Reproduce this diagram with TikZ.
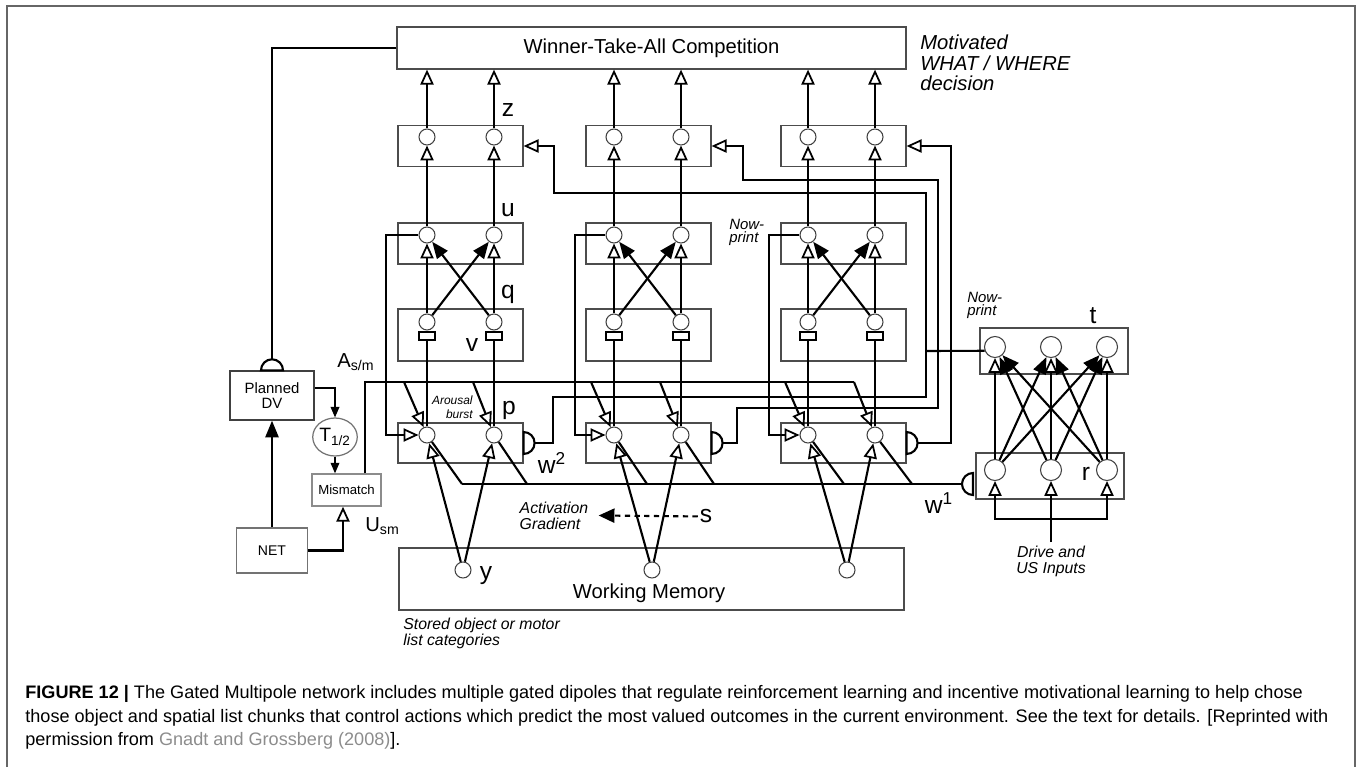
\documentclass[tikz,border=0pt]{standalone}
\usepackage{fontspec}
\setmainfont{Liberation Sans}
\usetikzlibrary{arrows.meta,shapes,positioning,calc}
\definecolor{linkgray}{HTML}{8C8C8C}

\tikzset{
  layer/.style={rectangle,draw=black!70,line width=0.7pt,minimum width=2.5cm,inner sep=0pt},
  unit/.style={rectangle,draw=black!75,line width=0.8pt,inner sep=0pt,align=center},
  cell/.style={circle,draw=black!75,line width=0.6pt,fill=white,minimum size=0.32cm,inner sep=0pt},
  bigcell/.style={cell,minimum size=0.42cm},
  habit/.style={rectangle,draw,line width=0.8pt,fill=white,minimum width=0.32cm,minimum height=0.16cm,inner sep=0pt},
  wire/.style={line width=1.2pt},
  oarrow/.style={wire,-{Triangle[open,length=8.5pt,width=7.5pt,line width=1pt]}},
  farrow/.style={wire,-{Triangle[length=9.5pt,width=7.5pt]}},
  sarrow/.style={line width=0.7pt,-{Triangle[length=6pt,width=5pt]}},
  letter/.style={font=\fontsize{14}{14}\selectfont,inner sep=0pt},
  note/.style={font=\fontsize{9}{9}\selectfont\itshape,align=left,inner sep=0pt},
}

\begin{document}
\begin{tikzpicture}[x=0.02cm,y=-0.02cm]
\useasboundingbox (0,0) rectangle (1358,767);
\draw[black!60,line width=0.6pt] (7,767) -- (7,6) -- (1355,6) -- (1355,767);

% Winner-take-all decision
\node[layer,minimum width=10.18cm,minimum height=0.84cm,font=\fontsize{11.5}{12}\selectfont] (wta) at (651.5,48) {Winner-Take-All Competition};
\node[note,font=\fontsize{11.5}{11.6}\selectfont\itshape,anchor=west] (motiv) at (920,63) {Motivated\\WHAT / WHERE\\decision};

% Planned DV, NET and mismatch
\node[unit,minimum width=1.68cm,minimum height=0.98cm,font=\fontsize{8.5}{8.5}\selectfont] (dv) at (272,395.5) {Planned\\DV};
\node[unit,draw=black!55,minimum width=1.42cm,minimum height=0.9cm,font=\fontsize{8}{8}\selectfont] (net) at (272,550.5) {NET};
\node[ellipse,draw=black!55,line width=0.7pt,minimum width=0.84cm,minimum height=0.76cm,inner sep=0pt,font=\fontsize{11}{11}\selectfont] (thalf) at (335,437) {T\textsubscript{1/2}};
\node[unit,draw=black!45,minimum width=1.38cm,minimum height=0.64cm,font=\fontsize{7.5}{7.5}\selectfont] (mis) at (346.5,490) {Mismatch};
\node[font=\fontsize{11.5}{12}\selectfont,inner sep=0pt] (asm) at (356,362) {A\textsubscript{s/m}};
\node[font=\fontsize{11.5}{12}\selectfont,inner sep=0pt] (usm) at (382.5,526) {U\textsubscript{sm}};

\draw[wire] ([xshift=-0.22cm]dv.north) arc[start angle=180,end angle=0,radius=0.22cm] -- cycle;
\draw[wire] (wta.west) -| ([yshift=0.22cm]dv.north);
\draw[farrow] (net) -- (dv);
\draw[sarrow] ([yshift=0.15cm]dv.east) -| (thalf);
\draw[sarrow] (thalf.south) -- (thalf.south |- mis.north);
\draw[oarrow] (net.east) -| ([xshift=-0.07cm]mis.south);
\draw[wire] ([xshift=0.37cm]mis.north) |- (854,382);

% Column 1
\node[layer,minimum height=0.82cm] (z1) at (460.5,146) {};
\node[layer,minimum height=0.82cm] (u1) at (460.5,243.5) {};
\node[layer,minimum height=1.04cm] (v1) at (460.5,335) {};
\node[layer,minimum height=0.8cm] (p1) at (460.5,443) {};
\node[cell] (z1a) at (427,137) {};
\node[cell] (z1b) at (494,137) {};
\node[cell] (u1a) at (427,235) {};
\node[cell] (u1b) at (494,235) {};
\node[cell] (v1a) at (427,322) {};
\node[cell] (v1b) at (494,322) {};
\node[habit] (h1a) at (427,336) {};
\node[habit] (h1b) at (494,336) {};
\node[cell] (p1a) at (427,435) {};
\node[cell] (p1b) at (494,435) {};

\draw[oarrow] (z1a) -- (z1a |- wta.south);
\draw[oarrow] (z1b) -- (z1b |- wta.south);
\draw[oarrow] (u1a) -- (z1a);
\draw[oarrow] (u1b) -- (z1b);
\draw[oarrow] (v1a) -- (u1a);
\draw[oarrow] (v1b) -- (u1b);
\draw[farrow] (v1a) -- (u1b);
\draw[farrow] (v1b) -- (u1a);
\draw[wire] (p1a) -- (h1a);
\draw[wire] (p1b) -- (h1b);
\draw[oarrow] (u1a) -| (386,435) -- (p1a);
\draw[oarrow] (404,382) -- (p1a);
\draw[oarrow] (473,382) -- (p1b);
\draw[wire] (p1a) -- (462,484);
\draw[wire] (p1b) -- (527,484);
\draw[wire] ([yshift=0.22cm]p1.east) arc[start angle=90,end angle=-90,radius=0.22cm] -- cycle;
\draw[oarrow] ([xshift=0.22cm]p1.east) -- (553,443) |- (926,397) -- (926,193) -| (554,146) -- (z1.east);

% Column 2
\node[layer,minimum height=0.82cm] (z2) at (648.5,146) {};
\node[layer,minimum height=0.82cm] (u2) at (648.5,243.5) {};
\node[layer,minimum height=1.04cm] (v2) at (648.5,335) {};
\node[layer,minimum height=0.8cm] (p2) at (648.5,443) {};
\node[cell] (z2a) at (614,137) {};
\node[cell] (z2b) at (681,137) {};
\node[cell] (u2a) at (614,235) {};
\node[cell] (u2b) at (681,235) {};
\node[cell] (v2a) at (614,322) {};
\node[cell] (v2b) at (681,322) {};
\node[habit] (h2a) at (614,336) {};
\node[habit] (h2b) at (681,336) {};
\node[cell] (p2a) at (614,435) {};
\node[cell] (p2b) at (681,435) {};

\draw[oarrow] (z2a) -- (z2a |- wta.south);
\draw[oarrow] (z2b) -- (z2b |- wta.south);
\draw[oarrow] (u2a) -- (z2a);
\draw[oarrow] (u2b) -- (z2b);
\draw[oarrow] (v2a) -- (u2a);
\draw[oarrow] (v2b) -- (u2b);
\draw[farrow] (v2a) -- (u2b);
\draw[farrow] (v2b) -- (u2a);
\draw[wire] (p2a) -- (h2a);
\draw[wire] (p2b) -- (h2b);
\draw[oarrow] (u2a) -| (575,435) -- (p2a);
\draw[oarrow] (591,382) -- (p2a);
\draw[oarrow] (660,382) -- (p2b);
\draw[wire] (p2a) -- (647,484);
\draw[wire] (p2b) -- (714,484);
\draw[wire] ([yshift=0.22cm]p2.east) arc[start angle=90,end angle=-90,radius=0.22cm] -- cycle;
\draw[oarrow] ([xshift=0.22cm]p2.east) -- (737,443) |- (938,408) -- (938,180) -| (743,146) -- (z2.east);

% Column 3
\node[layer,minimum height=0.82cm] (z3) at (843.5,146) {};
\node[layer,minimum height=0.82cm] (u3) at (843.5,243.5) {};
\node[layer,minimum height=1.04cm] (v3) at (843.5,335) {};
\node[layer,minimum height=0.8cm] (p3) at (843.5,443) {};
\node[cell] (z3a) at (808,137) {};
\node[cell] (z3b) at (875,137) {};
\node[cell] (u3a) at (808,235) {};
\node[cell] (u3b) at (875,235) {};
\node[cell] (v3a) at (808,322) {};
\node[cell] (v3b) at (875,322) {};
\node[habit] (h3a) at (808,336) {};
\node[habit] (h3b) at (875,336) {};
\node[cell] (p3a) at (808,435) {};
\node[cell] (p3b) at (875,435) {};

\draw[oarrow] (z3a) -- (z3a |- wta.south);
\draw[oarrow] (z3b) -- (z3b |- wta.south);
\draw[oarrow] (u3a) -- (z3a);
\draw[oarrow] (u3b) -- (z3b);
\draw[oarrow] (v3a) -- (u3a);
\draw[oarrow] (v3b) -- (u3b);
\draw[farrow] (v3a) -- (u3b);
\draw[farrow] (v3b) -- (u3a);
\draw[wire] (p3a) -- (h3a);
\draw[wire] (p3b) -- (h3b);
\draw[oarrow] (u3a) -| (769,435) -- (p3a);
\draw[oarrow] (785,382) -- (p3a);
\draw[oarrow] (854,382) -- (p3b);
\draw[wire] (p3a) -- (844,484);
\draw[wire] (p3b) -- (912,484);
\draw[wire] ([yshift=0.22cm]p3.east) arc[start angle=90,end angle=-90,radius=0.22cm] -- cycle;
\draw[oarrow] ([xshift=0.22cm]p3.east) -| (951,146) -- (z3.east);

% Working memory
\node[layer,minimum width=10.1cm,minimum height=1.24cm] (wm) at (651.5,579) {};
\node[font=\fontsize{11.5}{12}\selectfont,inner sep=0pt] (wmt) at (649,593) {Working Memory};
\node[cell] (y1) at (463,570) {};
\node[cell] (y2) at (652,570) {};
\node[cell] (y3) at (847,570) {};
\draw[oarrow] (y1) -- (p1a);
\draw[oarrow] (y1) -- (p1b);
\draw[oarrow] (y2) -- (p2a);
\draw[oarrow] (y2) -- (p2b);
\draw[oarrow] (y3) -- (p3a);
\draw[oarrow] (y3) -- (p3b);
\node[note,anchor=west] (stored) at (403,633) {Stored object or motor\\list categories};

% Drive representations
\node[layer,minimum width=2.96cm,minimum height=0.92cm] (tl) at (1054,351) {};
\node[layer,minimum width=2.96cm,minimum height=0.92cm] (rl) at (1050,476) {};
\node[bigcell] (t1) at (995,347) {};
\node[bigcell] (t2) at (1051,347) {};
\node[bigcell] (t3) at (1107,347) {};
\node[bigcell] (r1) at (995,470) {};
\node[bigcell] (r2) at (1051,470) {};
\node[bigcell] (r3) at (1107,470) {};
\coordinate (drv) at (1051,542);
\coordinate (jn) at (1051,519);

\draw[oarrow] (r1) -- (t1);
\draw[oarrow] (r2) -- (t2);
\draw[oarrow] (r3) -- (t3);
\draw[farrow] (r1) -- (t2);
\draw[farrow] (r1) -- (t3);
\draw[farrow] (r2) -- (t1);
\draw[farrow] (r2) -- (t3);
\draw[farrow] (r3) -- (t1);
\draw[farrow] (r3) -- (t2);
\draw[oarrow] (drv) -- (r2);
\draw[oarrow] (jn) -| (r1);
\draw[oarrow] (jn) -| (r3);
\draw[wire] (926,351) -- (t1.200);
\node[note,align=center] (drive) at (1051,561.5) {Drive and\\US Inputs};

% w1 gate
\draw[wire] (973,473) arc[start angle=90,end angle=270,radius=0.22cm] -- cycle;
\draw[wire] (462,484) -- (962,484);

% Activation gradient
\node[letter,inner sep=1pt] (s) at (706,516.5) {s};
\node[note] (agr) at (554,515.5) {Activation\\Gradient};
\draw[wire,dash pattern=on 3pt off 2.5pt,-{Triangle[length=9pt,width=8pt]}] (s) -- ([xshift=0.2cm]agr.east);

% Labels
\node[letter] (lz) at (508,110) {z};
\node[letter] (lu) at (508,210) {u};
\node[letter] (lq) at (508,294) {q};
\node[letter] (lv) at (472,345) {v};
\node[letter] (lp) at (509,410) {p};
\node[letter] (lw2) at (552,463) {w\textsuperscript{2}};
\node[letter] (ly) at (486,576) {y};
\node[letter] (lw1) at (939,503) {w\textsuperscript{1}};
\node[letter] (lr) at (1086,473.5) {r};
\node[letter] (lt) at (1093,315.5) {t};
\node[note,font=\fontsize{6.8}{7.9}\selectfont\itshape,align=right,anchor=east] (burst) at (473,407.5) {Arousal\\burst};
\node[note,font=\fontsize{8.5}{7.6}\selectfont\itshape,anchor=west] (np1) at (729,232.5) {Now-\\print};
\node[note,font=\fontsize{8.5}{7.6}\selectfont\itshape,anchor=west] (np2) at (967,305.5) {Now-\\print};

% Caption
\node[anchor=base west,inner sep=0pt,font=\fontsize{10.3}{12}\selectfont] (cap1) at (25,698) {\textbf{FIGURE 12 |} The Gated Multipole network includes multiple gated dipoles that regulate reinforcement learning and incentive motivational learning to help chose};
\node[anchor=base west,inner sep=0pt,font=\fontsize{10.3}{12}\selectfont] (cap2) at (25,722) {those object and spatial list chunks that control actions which predict the most valued outcomes in the current environment. See the text for details. [Reprinted with};
\node[anchor=base west,inner sep=0pt,font=\fontsize{10.3}{12}\selectfont] (cap3) at (25,745) {permission from \textcolor{linkgray}{Gnadt and Grossberg (2008)}].};
\end{tikzpicture}
\end{document}
